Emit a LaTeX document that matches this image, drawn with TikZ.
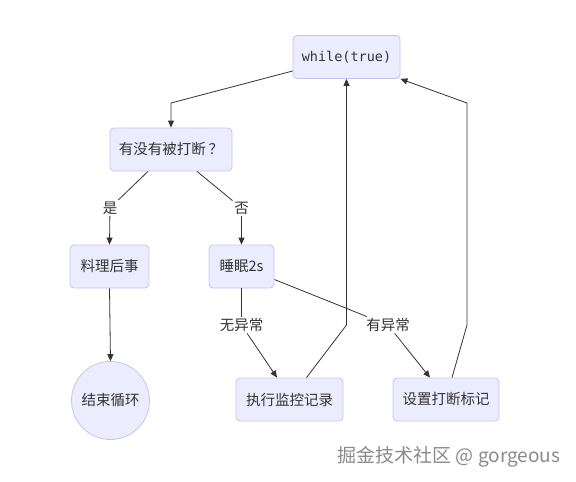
\documentclass[tikz,border=0pt]{standalone}
\usepackage{fontspec}
\setmainfont{Noto Sans CJK SC}
\newfontfamily\monof{DejaVu Sans Mono}
\usetikzlibrary{arrows.meta}
\definecolor{boxfill}{HTML}{ECECFF}
\definecolor{boxline}{HTML}{C9C2F2}
\definecolor{edgecol}{HTML}{333333}
\definecolor{labtext}{HTML}{333333}
\definecolor{wmtext}{HTML}{8A8A8A}
\begin{document}
\begin{tikzpicture}[x=1pt,y=-1pt,
 box/.style={draw=boxline, fill=boxfill, rounded corners=4pt, line width=0.8pt, minimum height=43pt, inner sep=0pt, text=labtext, font=\fontsize{14.5}{16}\selectfont},
 lab/.style={fill=white, inner sep=1.5pt, text=labtext, font=\fontsize{14.5}{16}\selectfont},
 edge/.style={draw=edgecol, line width=0.8pt},
 arr/.style={edge, -{Triangle[length=7pt,width=6pt]}}]
\useasboundingbox[fill=white] (0,0) rectangle (576,482);
% nodes
\node[box, minimum width=107pt, font=\monof\fontsize{13.5}{15}\selectfont] (wh) at (346.5,57) {while(true)};
\node[box, minimum width=122pt] (q) at (171,149.5) {有没有被打断\hspace{3pt}？};
\node[box, minimum width=79pt] (ll) at (109.5,266.5) {料理后事};
\node[box, minimum width=65pt] (sm) at (241.5,266.5) {睡眠2s};
\node[draw=boxline, fill=boxfill, circle, line width=0.8pt, minimum size=78pt, inner sep=0pt, text=labtext, font=\fontsize{14.5}{16}\selectfont] (js) at (110.5,400.5) {结束循环};
\node[box, minimum width=107pt] (zx) at (289.5,399.5) {执行监控记录};
\node[box, minimum width=106pt] (sz) at (446,399.5) {设置打断标记};
% edge labels
\node[lab] (shi) at (110,208) {是};
\node[lab] (fou) at (241.5,208) {否};
\node[lab] (wu) at (241.5,325) {无异常};
\node[lab] (you) at (388,325) {有异常};
% bend points
\coordinate (c1) at (171,103);
\coordinate (c2) at (346.5,325);
\coordinate (c3) at (467,325);
\coordinate (c4) at (467,103);
% edges
\draw[arr] ([yshift=-14pt]wh.west) -- (c1) -- (q.north);
\draw[edge] ([xshift=-23pt]q.south) -- (shi);
\draw[arr] (shi) -- (ll.north);
\draw[edge] ([xshift=26pt]q.south) -- (fou);
\draw[arr] (fou) -- (sm.north);
\draw[arr] (ll.south) -- (js.north);
\draw[edge] (sm.south) -- (wu);
\draw[arr] (wu) -- ([xshift=-12.5pt]zx.north);
\draw[edge] ([yshift=-13pt]sm.east) -- (you);
\draw[arr] (you) -- ([xshift=-16pt]sz.north);
\draw[arr] ([xshift=17pt]zx.north) -- (c2) -- (wh.south);
\draw[arr] ([xshift=6pt]sz.north) -- (c3) -- (c4) -- (wh.south east);
% watermark
\node[text=wmtext, font=\fontsize{19}{21}\selectfont] (wm) at (449,457) {掘金技术社区 @ gorgeous};
\end{tikzpicture}
\end{document}
